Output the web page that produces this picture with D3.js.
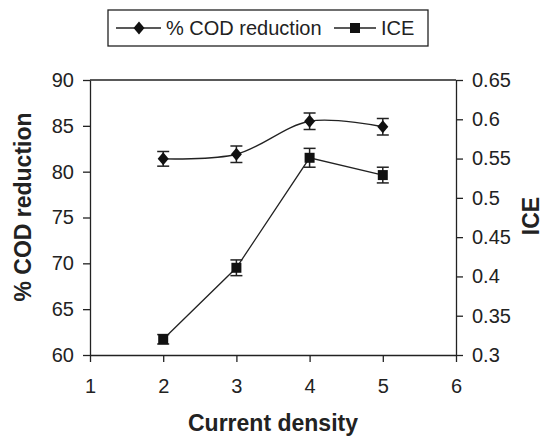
<!DOCTYPE html>
<html>
<head>
<meta charset="utf-8">
<style>
    body { margin: 0; background: #fff; }
    svg { font-family: 'Liberation Sans', Arial, sans-serif; }
    .axis path, .axis line { stroke: #222; stroke-width: 1.3px; }
    .axis text { font-size: 20px; fill: #222; }
    .title { font-size: 23px; font-weight: bold; fill: #222; }
</style>
</head>
<body>
<svg width="546" height="436"></svg>
<script src="https://d3js.org/d3.v7.min.js"></script>
<script>
    // data
    let density = [2, 3, 4, 5];
    let codReduction = [81.4, 81.9, 85.5, 84.9];
    let codError = [0.8, 0.9, 0.9, 0.9];
    let ice = [0.32, 0.411, 0.551, 0.529];
    let iceError = [0.006, 0.01, 0.012, 0.01];
    let xTicks = [1, 2, 3, 4, 5, 6];
    let leftTicks = [60, 65, 70, 75, 80, 85, 90];
    let rightTicks = [0.3, 0.35, 0.4, 0.45, 0.5, 0.55, 0.6, 0.65];

    let svg = d3.select("svg");
    let plotLeft = 90, plotRight = 456, plotTop = 80, plotBottom = 355;

    let x = d3.scaleLinear().domain([1, 6]).range([plotLeft, plotRight]);
    let yL = d3.scaleLinear().domain([60, 90]).range([plotBottom, plotTop]);
    let yR = d3.scaleLinear().domain([0.3, 0.65]).range([plotBottom, plotTop]);

    // frame top line
    svg.append("line")
        .attr("x1", plotLeft).attr("x2", plotRight)
        .attr("y1", plotTop).attr("y2", plotTop)
        .attr("stroke", "#222").attr("stroke-width", 1.3);

    svg.append("g").attr("class", "axis")
        .attr("transform", "translate(0," + plotBottom + ")")
        .call(d3.axisBottom(x).tickValues(xTicks).tickFormat(d3.format("d")).tickSize(7).tickSizeOuter(0).tickPadding(17));

    svg.append("g").attr("class", "axis")
        .attr("transform", "translate(" + plotLeft + ",0)")
        .call(d3.axisLeft(yL).tickValues(leftTicks).tickSize(7).tickSizeOuter(0).tickPadding(9));

    svg.append("g").attr("class", "axis")
        .attr("transform", "translate(" + plotRight + ",0)")
        .call(d3.axisRight(yR).tickValues(rightTicks).tickFormat(d => String(+d.toFixed(2))).tickSize(7).tickSizeOuter(0).tickPadding(9));

    // axis titles
    svg.append("text").attr("class", "title")
        .attr("x", 273).attr("y", 431)
        .attr("text-anchor", "middle")
        .text("Current density");

    svg.append("text").attr("class", "title")
        .attr("transform", "translate(31,207) rotate(-90)")
        .attr("text-anchor", "middle")
        .text("% COD reduction");

    svg.append("text").attr("class", "title")
        .attr("transform", "translate(539,216) rotate(-90)")
        .attr("text-anchor", "middle")
        .text("ICE");

    let cod = density.map((d, i) => ({ x: d, y: codReduction[i], e: codError[i] }));
    let iceData = density.map((d, i) => ({ x: d, y: ice[i], e: iceError[i] }));

    // lines
    svg.append("path")
        .datum(cod)
        .attr("d", d3.line().x(d => x(d.x)).y(d => yL(d.y)).curve(d3.curveCatmullRom.alpha(0.5)))
        .attr("fill", "none").attr("stroke", "#222").attr("stroke-width", 1.3);

    svg.append("path")
        .datum(iceData)
        .attr("d", d3.line().x(d => x(d.x)).y(d => yR(d.y)))
        .attr("fill", "none").attr("stroke", "#222").attr("stroke-width", 1.3);

    // error bars
    function errorBars(data, yScale) {
        let g = svg.append("g").attr("stroke", "#222").attr("stroke-width", 1.5);
        data.forEach(d => {
            let cx = x(d.x), y1 = yScale(d.y + d.e), y2 = yScale(d.y - d.e);
            g.append("line").attr("x1", cx).attr("x2", cx).attr("y1", y1).attr("y2", y2);
            g.append("line").attr("x1", cx - 6).attr("x2", cx + 6).attr("y1", y1).attr("y2", y1);
            g.append("line").attr("x1", cx - 6).attr("x2", cx + 6).attr("y1", y2).attr("y2", y2);
        });
    }
    errorBars(cod, yL);
    errorBars(iceData, yR);

    let diamond = "M0,-6.5L5.5,0L0,6.5L-5.5,0Z";
    let square = d3.symbol().type(d3.symbolSquare).size(100);

    svg.selectAll(".codpt").data(cod).join("path")
        .attr("transform", d => "translate(" + x(d.x) + "," + yL(d.y) + ")")
        .attr("d", diamond).attr("fill", "#111");

    svg.selectAll(".icept").data(iceData).join("path")
        .attr("transform", d => "translate(" + x(d.x) + "," + yR(d.y) + ")")
        .attr("d", square).attr("fill", "#111");

    // legend
    let legend = svg.append("g");
    legend.append("rect")
        .attr("x", 108).attr("y", 10).attr("width", 320).attr("height", 36)
        .attr("fill", "#fff").attr("stroke", "#222").attr("stroke-width", 1.3);
    legend.append("line").attr("x1", 116).attr("x2", 161).attr("y1", 28).attr("y2", 28)
        .attr("stroke", "#222").attr("stroke-width", 1.3);
    legend.append("path").attr("transform", "translate(139,28)").attr("d", diamond).attr("fill", "#111");
    legend.append("text").attr("x", 166).attr("y", 35)
        .style("font-size", "20px").style("fill", "#222").text("% COD reduction");
    legend.append("line").attr("x1", 334).attr("x2", 376).attr("y1", 28).attr("y2", 28)
        .attr("stroke", "#222").attr("stroke-width", 1.3);
    legend.append("path").attr("transform", "translate(355,28)").attr("d", square).attr("fill", "#111");
    legend.append("text").attr("x", 381).attr("y", 35)
        .style("font-size", "20px").style("fill", "#222").text("ICE");
</script>
</body>
</html>
